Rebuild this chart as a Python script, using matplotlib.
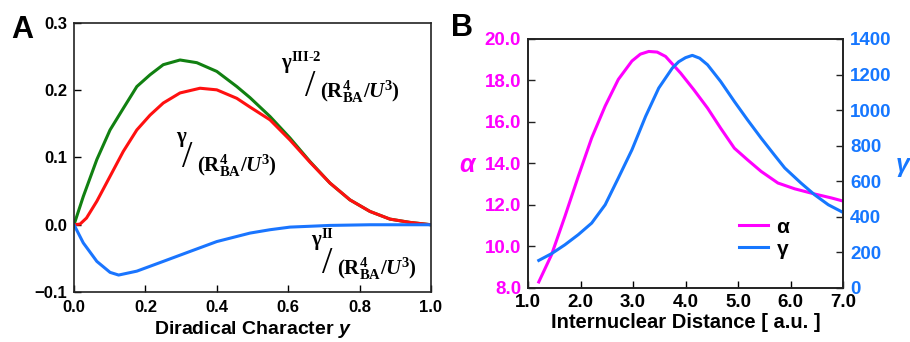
import matplotlib
matplotlib.use("Agg")
import matplotlib.pyplot as plt

plt.rcParams['font.family'] = ['Liberation Sans', 'DejaVu Sans']
plt.rcParams['font.weight'] = 'bold'
plt.rcParams['mathtext.fontset'] = 'custom'
plt.rcParams['mathtext.rm'] = 'Liberation Serif'
plt.rcParams['mathtext.it'] = 'Liberation Serif:italic'
plt.rcParams['mathtext.bf'] = 'Liberation Serif:bold'
plt.rcParams['mathtext.bfit'] = 'Liberation Serif:bold:italic'
plt.rcParams['mathtext.sf'] = 'Liberation Sans:bold:italic'

# ---------------- Panel A data ----------------
x_green = [0.0, 0.026, 0.064, 0.101, 0.138, 0.176, 0.213, 0.25, 0.297, 0.344, 0.40, 0.456, 0.493,
           0.549, 0.605, 0.661, 0.717, 0.773, 0.829, 0.885, 0.941, 1.0]
gamma_III2 = [0.0, 0.042, 0.097, 0.141, 0.173, 0.2055, 0.223, 0.238, 0.245, 0.241, 0.228, 0.2055,
              0.189, 0.161, 0.129, 0.094, 0.062, 0.037, 0.0198, 0.0084, 0.0035, 0.0]
x_red = [0.0, 0.017, 0.035, 0.064, 0.101, 0.138, 0.176, 0.213, 0.25, 0.297, 0.353, 0.40, 0.456,
         0.493, 0.549, 0.605, 0.661, 0.717, 0.773, 0.829, 0.885, 0.941, 1.0]
gamma_total = [0.0, 0.001, 0.010, 0.035, 0.072, 0.109, 0.141, 0.163, 0.181, 0.196, 0.203, 0.2006,
               0.188, 0.175, 0.156, 0.126, 0.093, 0.062, 0.037, 0.0198, 0.0084, 0.0035, 0.0]
x_blue = [0.0, 0.026, 0.064, 0.101, 0.125, 0.176, 0.25, 0.325, 0.40, 0.493, 0.549, 0.605, 0.717,
          0.829, 1.0]
gamma_II = [0.0, -0.027, -0.0545, -0.0708, -0.0748, -0.069, -0.0545, -0.0397, -0.025, -0.0124,
            -0.0074, -0.0035, -0.001, 0.0, 0.0]

# ---------------- Panel B data ----------------
dist_a = [1.205, 1.448, 1.703, 1.958, 2.213, 2.47, 2.72, 2.98, 3.14, 3.3, 3.46, 3.62, 3.906, 4.16,
          4.42, 4.67, 4.93, 5.18, 5.44, 5.76, 6.08, 6.46, 6.78, 7.0]
alpha = [8.29, 9.6, 11.45, 13.38, 15.23, 16.77, 18.05, 18.94, 19.27, 19.4, 19.37, 19.16, 18.36,
         17.55, 16.67, 15.7, 14.74, 14.18, 13.62, 13.06, 12.78, 12.53, 12.34, 12.19]
dist_g = [1.205, 1.448, 1.703, 1.958, 2.213, 2.47, 2.72, 2.98, 3.24, 3.49, 3.75, 3.87, 4.0, 4.13,
          4.27, 4.42, 4.67, 4.93, 5.18, 5.44, 5.69, 5.89, 6.2, 6.46, 6.72, 7.0]
gamma_B = [155, 193, 243, 300, 365, 468, 618, 777, 965, 1124, 1237, 1272, 1295, 1308, 1292, 1255,
           1161, 1049, 946, 843, 749, 675, 590, 524, 468, 425]

c_green = '#118011'
c_red = '#ff1010'
c_blue = '#1a75ff'
c_mag = '#ff00ff'
c_blueB = '#1677ff'

fig = plt.figure(figsize=(9.10, 3.42), dpi=100)

# ---------------- Panel A ----------------
axA = fig.add_axes([74 / 910, 1 - 292 / 342, 357 / 910, 269 / 342])
axA.plot(x_green, gamma_III2, color=c_green, lw=2.2)
axA.plot(x_red, gamma_total, color=c_red, lw=2.2)
axA.plot(x_blue, gamma_II, color=c_blue, lw=2.2)
axA.set_xlim(0, 1.0)
axA.set_ylim(-0.1, 0.3)
axA.set_xticks([0.0, 0.2, 0.4, 0.6, 0.8, 1.0])
axA.set_xticklabels(['0.0', '0.2', '0.4', '0.6', '0.8', '1.0'])
axA.set_yticks([-0.1, 0.0, 0.1, 0.2, 0.3])
axA.set_yticklabels(['\u22120.1', '0.0', '0.1', '0.2', '0.3'])
axA.tick_params(direction='in', length=5, width=1.0, labelsize=12)
axA.tick_params(axis='y', pad=5)
axA.tick_params(axis='x', pad=6)
for s in axA.spines.values():
    s.set_linewidth(1.2)
    s.set_color('#222222')
axA.set_xlabel(r'Diradical Character $\mathsf{y}$', fontsize=14, fontweight='bold', labelpad=3)

num_fs = 15
par_fs = 15
sl_fs = 27
par = r'$(\mathbf{R}^{\mathbf{4}}_{\mathbf{BA}}/\mathbfit{U}^{3})$'
# gamma III-2 label
axA.text(0.58, 0.241, r'$\mathrm{\gamma}^{\mathbf{III\text{-}2}}$', fontsize=num_fs,
         ha='left', va='center')
axA.text(0.648, 0.205, '/', fontsize=sl_fs, family='Liberation Serif', fontweight='normal',
         ha='left', va='center')
axA.text(0.688, 0.198, par, fontsize=par_fs, ha='left', va='center')
# gamma label
axA.text(0.285, 0.127, r'$\mathrm{\gamma}$', fontsize=num_fs, ha='left', va='center')
axA.text(0.303, 0.1, '/', fontsize=sl_fs, family='Liberation Serif', fontweight='normal',
         ha='left', va='center')
axA.text(0.345, 0.088, par, fontsize=par_fs, ha='left', va='center')
# gamma II label
axA.text(0.665, -0.022, r'$\mathrm{\gamma}^{\mathbf{II}}$', fontsize=num_fs, ha='left', va='center')
axA.text(0.695, -0.058, '/', fontsize=sl_fs, family='Liberation Serif', fontweight='normal',
         ha='left', va='center')
axA.text(0.737, -0.066, par, fontsize=par_fs, ha='left', va='center')

fig.text(0.012, 0.912, 'A', fontsize=22, fontweight='bold', ha='left', va='center')

# ---------------- Panel B ----------------
axB = fig.add_axes([528 / 910, 1 - 288 / 342, 315 / 910, 249 / 342])
axB2 = axB.twinx()
lA, = axB.plot(dist_a, alpha, color=c_mag, lw=2.2, label='\u03b1')
lG, = axB2.plot(dist_g, gamma_B, color=c_blueB, lw=2.2, label='\u03b3')
axB.set_xlim(1.0, 7.0)
axB.set_ylim(8.0, 20.0)
axB2.set_ylim(0, 1400)
axB.set_xticks([1, 2, 3, 4, 5, 6, 7])
axB.set_xticklabels(['1.0', '2.0', '3.0', '4.0', '5.0', '6.0', '7.0'])
axB.set_yticks([8, 10, 12, 14, 16, 18, 20])
axB.set_yticklabels(['8.0', '10.0', '12.0', '14.0', '16.0', '18.0', '20.0'])
axB2.set_yticks([0, 200, 400, 600, 800, 1000, 1200, 1400])
axB.tick_params(direction='in', length=5, width=1.0, labelsize=13.5)
axB.tick_params(axis='x', pad=4)
axB.tick_params(axis='y', labelcolor=c_mag, color='#222222', pad=5)
axB2.tick_params(direction='in', length=5, width=1.0, labelsize=13.5, pad=5,
                 labelcolor=c_blueB, color='#222222')
for ax in (axB, axB2):
    for s in ax.spines.values():
        s.set_linewidth(1.2)
        s.set_color('#222222')
axB.set_xlabel('Internuclear Distance [ a.u. ]', fontsize=14.5, fontweight='bold', labelpad=2)
fig.text(0.513, 0.517, '\u03b1', fontsize=18, fontweight='bold', style='italic', color=c_mag,
         ha='center', va='center')
fig.text(0.992, 0.517, '\u03b3', fontsize=18, fontweight='bold', style='italic', color=c_blueB,
         ha='center', va='center')
leg = axB2.legend(handles=[lA, lG], loc='center left', bbox_to_anchor=(0.61, 0.2), frameon=False,
                  fontsize=15, handlelength=1.4, handletextpad=0.4, labelspacing=0.15)

fig.text(0.496, 0.918, 'B', fontsize=22, fontweight='bold', ha='left', va='center')

fig.savefig('out.png', dpi=100)
